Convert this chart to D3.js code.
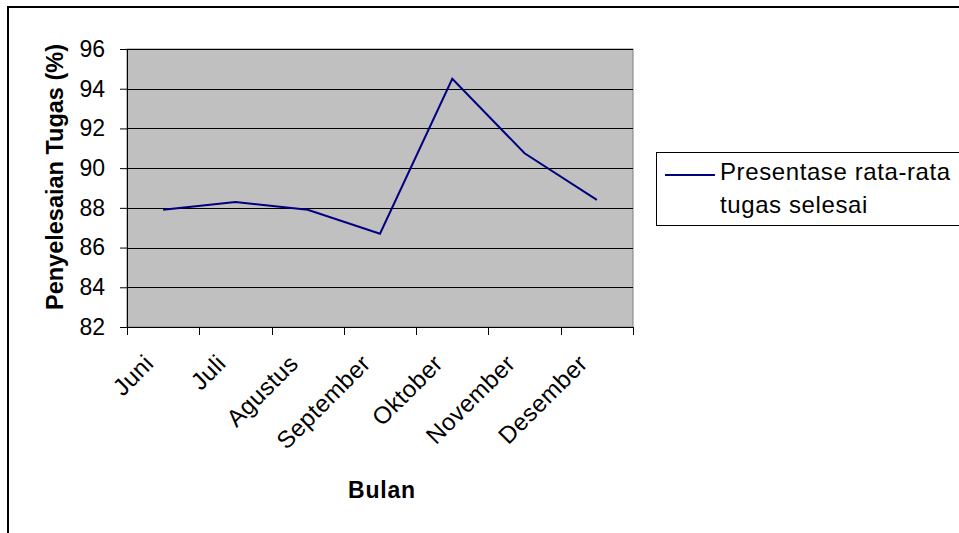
<!DOCTYPE html>
<html>
<head>
<meta charset="utf-8">
<script src="https://cdn.jsdelivr.net/npm/d3@7"></script>
<style>
  html, body { margin: 0; padding: 0; background: #fff; }
  svg { display: block; }
  text { font-family: Arial, "Liberation Sans", sans-serif; fill: #000; }
</style>
</head>
<body>
<svg id="chart" width="959" height="533"></svg>
<script>
// Monthly average task completion (%)
const months = ["Juni", "Juli", "Agustus", "September", "Oktober", "November", "Desember"];
const completion = [87.9, 88.3, 87.9, 86.7, 94.5, 90.75, 88.4];
const yTicks = [82, 84, 86, 88, 90, 92, 94, 96];
const seriesName = ["Presentase rata-rata", "tugas selesai"];

const svg = d3.select("#chart");
const W = 959, H = 533;
const plot = { left: 127, top: 49, right: 633, bottom: 327 };
const FONT = "Arial, 'Liberation Sans', sans-serif";

// outer chart frame
svg.append("rect")
  .attr("x", 8).attr("y", 7)
  .attr("width", W).attr("height", H)
  .attr("fill", "#fff").attr("stroke", "#000").attr("stroke-width", 2);

const x = d3.scaleBand().domain(months).range([plot.left, plot.right]).padding(0);
const y = d3.scaleLinear().domain([82, 96]).range([plot.bottom, plot.top]);

// plot background
svg.append("rect")
  .attr("x", plot.left).attr("y", plot.top)
  .attr("width", plot.right - plot.left).attr("height", plot.bottom - plot.top)
  .attr("fill", "#c0c0c0").attr("stroke", "#808080").attr("stroke-width", 1);

// horizontal gridlines
svg.append("g").selectAll("line").data(yTicks).join("line")
  .attr("x1", plot.left).attr("x2", plot.right)
  .attr("y1", d => Math.round(y(d)) + 0.5).attr("y2", d => Math.round(y(d)) + 0.5)
  .attr("stroke", "#000").attr("stroke-width", 1);

// y axis
const yAxis = svg.append("g")
  .attr("transform", `translate(${plot.left},0)`)
  .call(d3.axisLeft(y).tickValues(yTicks).tickSize(7).tickPadding(15).tickFormat(d3.format("d")));
yAxis.select(".domain").attr("stroke", "#000");
yAxis.selectAll(".tick line").attr("stroke", "#000");
yAxis.selectAll("text").attr("font-size", 23).attr("font-family", FONT).attr("fill", "#000");

// x axis: ticks on category boundaries
const xAxisG = svg.append("g").attr("transform", `translate(0,${plot.bottom})`);
xAxisG.append("line")
  .attr("x1", plot.left).attr("x2", plot.right).attr("y1", 0.5).attr("y2", 0.5)
  .attr("stroke", "#000");
const bounds = months.map(m => x(m)).concat([x(months[months.length - 1]) + x.bandwidth()]);
xAxisG.selectAll("line.tk").data(bounds).join("line")
  .attr("class", "tk")
  .attr("x1", d => Math.round(d) + 0.5).attr("x2", d => Math.round(d) + 0.5)
  .attr("y1", 0).attr("y2", 8)
  .attr("stroke", "#000");
xAxisG.selectAll("text").data(months).join("text")
  .attr("transform", d => `translate(${x(d) + x.bandwidth() / 2 - 8},${38}) rotate(-45)`)
  .attr("text-anchor", "end")
  .attr("font-size", 24)
  .attr("letter-spacing", 0.4)
  .text(d => d);

// series line
const line = d3.line()
  .x((d, i) => x(months[i]) + x.bandwidth() / 2)
  .y(d => y(d));
svg.append("path")
  .datum(completion)
  .attr("d", line)
  .attr("fill", "none")
  .attr("stroke", "#000080")
  .attr("stroke-width", 2)
  .attr("stroke-linejoin", "miter");

// axis titles
svg.append("text")
  .attr("transform", `translate(63,177) rotate(-90)`)
  .attr("text-anchor", "middle")
  .attr("font-size", 23.5).attr("font-weight", "bold")
  .text("Penyelesaian Tugas (%)");
svg.append("text")
  .attr("x", 382).attr("y", 498)
  .attr("text-anchor", "middle")
  .attr("font-size", 23).attr("font-weight", "bold")
  .attr("letter-spacing", 0.8)
  .text("Bulan");

// legend
const lg = svg.append("g");
lg.append("rect")
  .attr("x", 656.5).attr("y", 152.5).attr("width", 320).attr("height", 73)
  .attr("fill", "#fff").attr("stroke", "#000").attr("stroke-width", 1);
lg.append("line")
  .attr("x1", 665).attr("x2", 715).attr("y1", 175).attr("y2", 175)
  .attr("stroke", "#000080").attr("stroke-width", 2);
lg.selectAll("text").data(seriesName).join("text")
  .attr("x", 720).attr("y", (d, i) => 180 + i * 33)
  .attr("font-size", 24)
  .attr("letter-spacing", 0.6)
  .text(d => d);
</script>
</body>
</html>
